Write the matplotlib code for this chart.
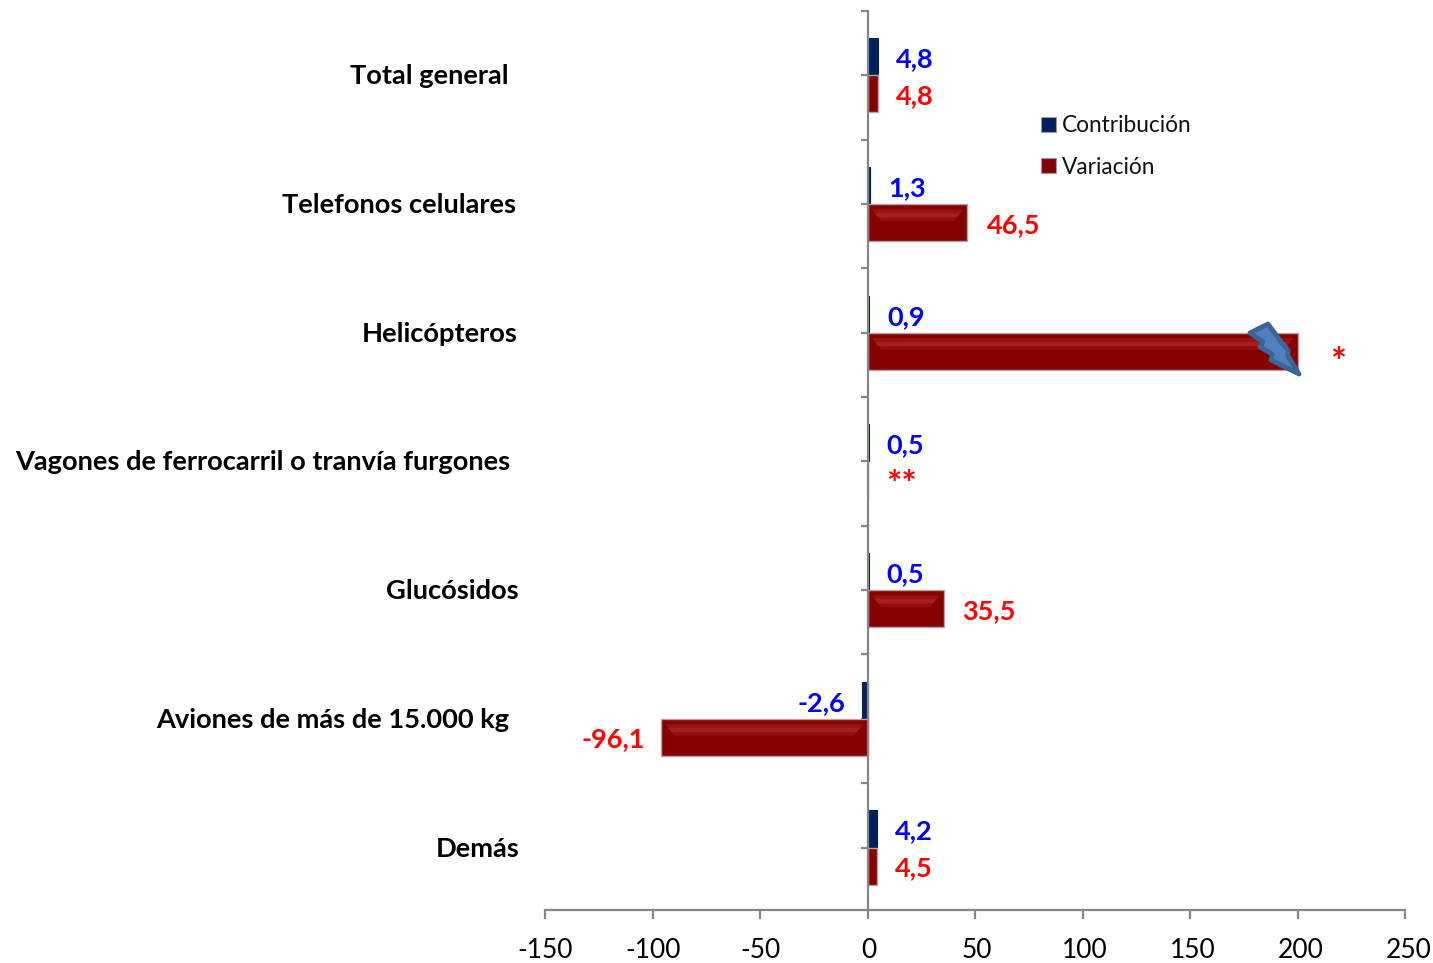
import matplotlib
matplotlib.use("Agg")
import matplotlib.pyplot as plt
from matplotlib.patches import Polygon, Rectangle
from matplotlib.transforms import ScaledTranslation, blended_transform_factory

plt.rcParams["font.family"] = ["Lato", "DejaVu Sans"]

categories = [
    "Total general",
    "Telefonos celulares",
    "Helicópteros",
    "Vagones de ferrocarril o tranvía furgones",
    "Glucósidos",
    "Aviones de más de 15.000 kg",
    "Demás",
]
contribucion = [4.8, 1.3, 0.9, 0.5, 0.5, -2.6, 4.2]
# Helicópteros runs off the scale, Vagones has no bar (only the asterisks)
variacion = [4.8, 46.5, 200, 0, 35.5, -96.1, 4.5]
contrib_labels = ["4,8", "1,3", "0,9", "0,5", "0,5", "-2,6", "4,2"]
var_labels = ["4,8", "46,5", "*", "**", "35,5", "-96,1", "4,5"]
x_ticks = [-150, -100, -50, 0, 50, 100, 150, 200, 250]

# label placement, in reference pixels
cat_right_px = [509, 516, 518, 510, 519, 509, 519]
contrib_label_px = [915, 907, 906, 905, 905, 821, 914]
var_label_px = [915, 1014, 1338, 902, 989, 613, 914]
var_label_dy = [21, 21, 31, 24, 21, 20, 21]
var_label_size = [19.5, 19.5, 27, 26, 19.5, 19.5, 19.5]

W, H = 1433, 963
AX_L, AX_R, AX_T, AX_B = 545, 1405, 11, 910
ROW_PX = 128.75
BLUE = "#002060"
RED = "#860000"
GREY = "#868686"


def fx(px):
    return px / W


def fy(py):
    return 1 - py / H


def bolt(fig):
    outline = [(1268, 324), (1250, 333), (1263, 342), (1260, 347), (1272, 354),
               (1271, 360), (1299, 374), (1288, 356), (1288, 350), (1282, 343)]
    pts = [(fx(x), fy(y)) for x, y in outline]
    fig.add_artist(Polygon(pts, closed=True, transform=fig.transFigure, facecolor="#4f81bd",
                           edgecolor="#3c6494", linewidth=3.5, joinstyle="round", zorder=10))


def bevel(ax, value, y_top, height):
    """Soft lighter strip near the top of a bar, tapered at both ends."""
    if abs(value) < 20:
        return
    inset = 7 if value > 0 else -7
    steps = [(0.14, 0.24, 0.30), (0.24, 0.36, 0.55), (0.36, 0.46, 0.25)]
    for start, end, alpha in steps:
        top = y_top + height * start
        bottom = y_top + height * end
        ax.add_patch(Polygon(
            [(inset * start * 2, top), (value - inset * start * 2, top),
             (value - inset * end * 2, bottom), (inset * end * 2, bottom)],
            closed=True, facecolor="#c23a3a", edgecolor="none", alpha=alpha, zorder=4,
        ))


fig = plt.figure(figsize=(W / 100, H / 100), dpi=100, facecolor="white")
ax = fig.add_axes([fx(AX_L), fy(AX_B), (AX_R - AX_L) / W, (AX_B - AX_T) / H])

n = len(categories)
bar_h = 0.288
ys = list(range(n))

ax.barh([y - bar_h / 2 for y in ys], contribucion, height=bar_h, color=BLUE,
        edgecolor=BLUE, linewidth=0.8, label="Contribución", zorder=3)
ax.barh([y + bar_h / 2 for y in ys], variacion, height=bar_h, color=RED,
        edgecolor="#b8a4a4", linewidth=1.0, label="Variación", zorder=3)
for y, v in zip(ys, variacion):
    bevel(ax, v, y, bar_h)

ax.set_xlim(x_ticks[0], x_ticks[-1])
ax.set_ylim(ys[0] + (AX_B - 75) / ROW_PX, ys[0] + (AX_T - 75) / ROW_PX)
ax.set_xticks(x_ticks)
ax.set_xticklabels([str(t) for t in x_ticks], fontsize=19, color="black")
ax.set_yticks([i - 0.5 for i in range(n)])
ax.set_yticks(ys, minor=True)
ax.set_yticklabels([])
ax.tick_params(axis="x", direction="out", length=6.5, width=1.6, color=GREY, pad=14)
ax.tick_params(axis="y", which="both", direction="out", length=5, width=1.6, color=GREY)

# the reference's tick labels drift to the right of their ticks as x grows
for tick, label in zip(x_ticks, ax.get_xticklabels()):
    shift = (tick - x_ticks[0]) / (x_ticks[-1] - x_ticks[0]) * 4 / 100
    label.set_transform(label.get_transform() + ScaledTranslation(shift, 0, fig.dpi_scale_trans))

for side in ("top", "right"):
    ax.spines[side].set_visible(False)
ax.spines["left"].set_position(("data", 0))
ax.spines["left"].set_color(GREY)
ax.spines["left"].set_linewidth(1.6)
ax.spines["left"].set_zorder(5)
ax.spines["bottom"].set_color(GREY)
ax.spines["bottom"].set_linewidth(1.6)

row = blended_transform_factory(fig.transFigure, ax.transData)
for i, name in enumerate(categories):
    ax.text(fx(cat_right_px[i]), i + 1 / ROW_PX, name, transform=row, ha="right", va="center",
            fontsize=19.6, fontweight="bold", color="black", clip_on=False)
    ax.text(fx(contrib_label_px[i]), i - 16 / ROW_PX, contrib_labels[i], transform=row,
            ha="center", va="center", fontsize=19.5, fontweight="bold", color="#0000ff")
    ax.text(fx(var_label_px[i]), i + var_label_dy[i] / ROW_PX, var_labels[i], transform=row,
            ha="center", va="center", fontsize=var_label_size[i], fontweight="bold", color="#ff0000")

# legend drawn by hand so the two rows land where they do in the reference
for py, color, label in [(124, BLUE, "Contribución"), (165, RED, "Variación")]:
    fig.add_artist(Rectangle((fx(1041), fy(py + 8)), 15 / W, 15 / H, transform=fig.transFigure,
                             facecolor=color, edgecolor="#9a9aa6", linewidth=0.8))
    fig.text(fx(1062), fy(py + 2), label, ha="left", va="center", fontsize=16.3, color="#111111")

bolt(fig)

fig.savefig("out.png", dpi=100, facecolor="white")
